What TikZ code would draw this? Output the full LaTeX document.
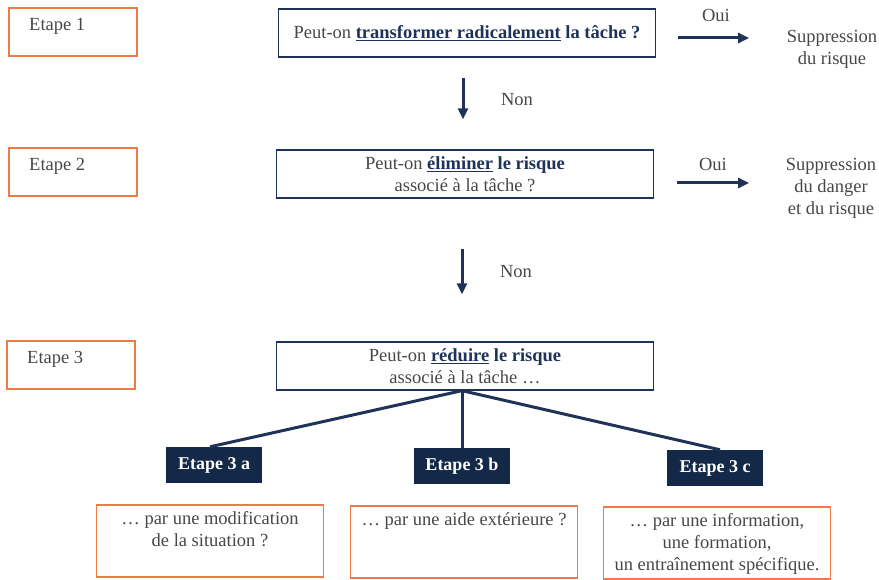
\documentclass[tikz,border=0pt]{standalone}
\usepackage{fontspec}
\setmainfont{Liberation Serif}
\usetikzlibrary{arrows.meta}
\definecolor{navy}{HTML}{1F3358}
\definecolor{dnavy}{HTML}{142847}
\definecolor{orng}{HTML}{EE7A45}
\definecolor{txt}{HTML}{474747}
\newcommand{\kw}[1]{\textbf{\color{navy}#1}}

\begin{document}
\begin{tikzpicture}[x=1pt,y=-1pt,text=txt,font=\fontsize{18.5}{22}\selectfont,
  etape/.style={draw=orng, line width=2pt, minimum width=128pt, minimum height=48pt},
  question/.style={draw=navy, line width=1.3pt, minimum width=377pt, minimum height=48pt, align=center, inner sep=0pt},
  dark/.style={fill=dnavy, text=white, font=\fontsize{18}{20}\selectfont\bfseries, minimum width=96pt, minimum height=36pt, inner sep=0pt},
  answer/.style={draw=orng, line width=1.6pt, minimum width=227pt, minimum height=72pt},
  arr/.style={navy, line width=3pt, -{Triangle[length=11pt,width=10pt]}},
  branch/.style={navy, line width=3pt}]
\useasboundingbox (0,0) rectangle (879,580);

% etapes
\node[etape] (e1) at (73,32) {};
\node[etape] (e2) at (73,172) {};
\node[etape] (e3) at (71,365) {};
\node[anchor=north west, inner sep=0pt] (l1) at ([xshift=21pt,yshift=-11pt]e1.north west) {Etape 1};
\node[anchor=north west, inner sep=0pt] (l2) at ([xshift=21pt,yshift=-11pt]e2.north west) {Etape 2};
\node[anchor=north west, inner sep=0pt] (l3) at ([xshift=21pt,yshift=-11pt]e3.north west) {Etape 3};

% questions
\node[question] (q1) at (467,33) {Peut-on \kw{\underline{transformer radicalement}} \kw{la tâche ?}};
\node[question] (q2) at (465,174) {Peut-on \kw{\underline{éliminer}} \kw{le risque}\\associé à la tâche ?};
\node[question] (q3) at (465,366) {Peut-on \kw{\underline{réduire}} \kw{le risque}\\associé à la tâche \ldots};

% oui
\node[align=center] (s1) at (832,49) {Suppression\\du risque};
\node[align=center] (s2) at (831,188) {Suppression\\du danger\\et du risque};
\node (o1) at (716,15) {Oui};
\node (o2) at (713,164) {Oui};
\draw[arr] ([xshift=22pt,yshift=-5pt]q1.east) -- ++(71,0);
\draw[arr] ([xshift=23pt,yshift=-9pt]q2.east) -- ++(72,0);

% non
\node (n1) at (517,100) {Non};
\node (n2) at (516,272) {Non};
\draw[arr] ([xshift=-4pt,yshift=-20pt]q1.south) -- ([xshift=-2pt,yshift=30pt]q2.north);
\draw[arr] ([xshift=-3pt,yshift=-50pt]q2.south) -- ([xshift=-3pt,yshift=47pt]q3.north);

% etape 3 a b c
\node[dark] (d1) at (214,465) {Etape 3 a};
\node[dark] (d2) at (462,466) {Etape 3 b};
\node[dark] (d3) at (715,468) {Etape 3 c};
\draw[branch] ([xshift=-3pt]q3.south) -- ([xshift=-4pt]d1.north);
\draw[branch] ([xshift=-3pt]q3.south) -- (d2.north);
\draw[branch] ([xshift=-3pt]q3.south) -- ([xshift=5pt]d3.north);

% reponses
\node[answer] (a1) at (210,541) {};
\node[answer] (a2) at (464,542) {};
\node[answer] (a3) at (717,543) {};
\node[anchor=north, align=center, inner sep=0pt] (t1) at ([yshift=-7pt]a1.north) {\ldots{} par une modification\\de la situation ?};
\node[anchor=north, align=center, inner sep=0pt] (t2) at ([yshift=-7pt]a2.north) {\ldots{} par une aide extérieure ?};
\node[anchor=north, align=center, inner sep=0pt] (t3) at ([yshift=-7pt]a3.north) {\ldots{} par une information,\\une formation,\\un entraînement spécifique.};
\end{tikzpicture}
\end{document}
